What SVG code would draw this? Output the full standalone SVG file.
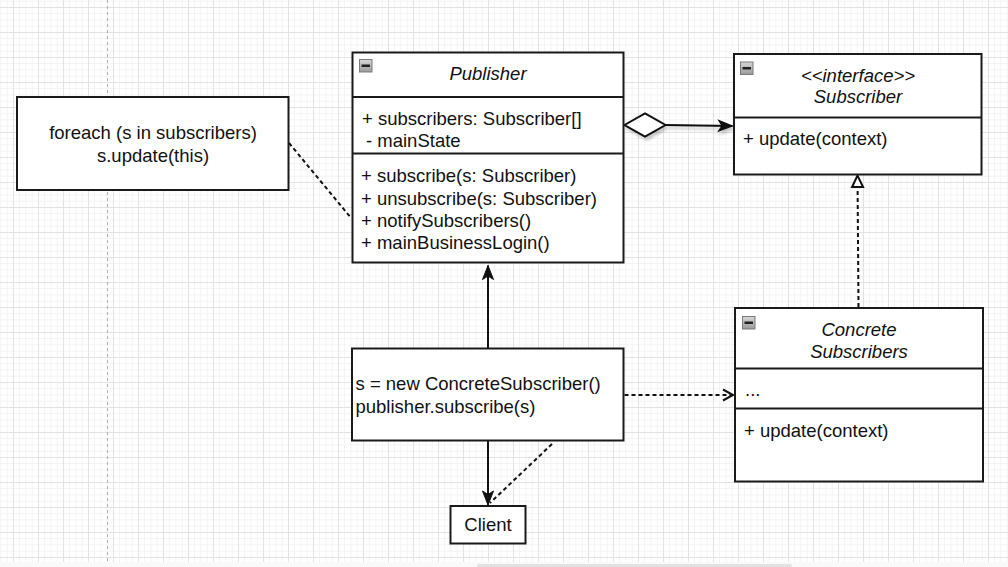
<svg xmlns="http://www.w3.org/2000/svg" width="1008" height="567" viewBox="0 0 1008 567">
  <style>
    .box { fill: #ffffff; stroke: #1a1a1a; stroke-width: 2; }
    .div { stroke: #1a1a1a; stroke-width: 2; }
    .t { font-family: "Liberation Sans", Arial, sans-serif; font-size: 18.5px; fill: #111111; }
    .ti { font-family: "Liberation Sans", Arial, sans-serif; font-size: 18.5px; font-style: italic; fill: #111111; }
    .mid { text-anchor: middle; }
    .edge { fill: none; stroke: #111111; stroke-width: 2; }
    .dash { stroke-dasharray: 4 3; }
  </style>
  <defs>
    <pattern id="grid" patternUnits="userSpaceOnUse" x="13" y="7" width="25" height="25">
      <rect x="6.25" y="0" width="0.8" height="25" fill="#f1f1f1"/>
      <rect x="12.5" y="0" width="0.8" height="25" fill="#f1f1f1"/>
      <rect x="18.75" y="0" width="0.8" height="25" fill="#f1f1f1"/>
      <rect x="0" y="6.25" width="25" height="0.8" fill="#f1f1f1"/>
      <rect x="0" y="12.5" width="25" height="0.8" fill="#f1f1f1"/>
      <rect x="0" y="18.75" width="25" height="0.8" fill="#f1f1f1"/>
      <rect x="0" y="0" width="1" height="25" fill="#e2e2e2"/>
      <rect x="0" y="0" width="25" height="1" fill="#e2e2e2"/>
    </pattern>
    <linearGradient id="iconFill" x1="0" y1="0" x2="0" y2="1">
      <stop offset="0" stop-color="#d8d8d8"/>
      <stop offset="1" stop-color="#9a9a9a"/>
    </linearGradient>
    <g id="collapse">
      <rect x="0.5" y="0.5" width="12.5" height="12.5" fill="url(#iconFill)" stroke="#7a7a7a" stroke-width="1"/>
      <rect x="2.5" y="5.5" width="8.5" height="2.5" fill="#222222"/>
    </g>
    <marker id="classic" markerUnits="userSpaceOnUse" markerWidth="20" markerHeight="16" viewBox="-16 -8 20 16" refX="0" refY="0" orient="auto">
      <path d="M0,0 L-14,-5.5 L-10.5,0 L-14,5.5 Z" fill="#111111" stroke="#111111" stroke-width="1"/>
    </marker>
    <marker id="hollowTri" markerUnits="userSpaceOnUse" markerWidth="20" markerHeight="16" viewBox="-16 -8 20 16" refX="0" refY="0" orient="auto">
      <path d="M0,0 L-11.5,-5.5 L-11.5,5.5 Z" fill="#ffffff" stroke="#111111" stroke-width="2"/>
    </marker>
    <marker id="open" markerUnits="userSpaceOnUse" markerWidth="20" markerHeight="16" viewBox="-16 -8 20 16" refX="0" refY="0" orient="auto">
      <path d="M-10,-5.5 L0,0 L-10,5.5" fill="none" stroke="#111111" stroke-width="2"/>
    </marker>
    <filter id="soft" x="-20%" y="-80%" width="140%" height="260%">
      <feDropShadow dx="2" dy="3" stdDeviation="1.8" flood-color="#000000" flood-opacity="0.22"/>
    </filter>
  </defs>

  <!-- canvas background with grid -->
  <rect x="0" y="0" width="1008" height="567" fill="#ffffff"/>
  <rect x="0" y="0" width="1008" height="562" fill="url(#grid)"/>
  <line x1="107.5" y1="0" x2="107.5" y2="562" stroke="#b0b0b0" stroke-width="1" stroke-dasharray="3 3"/>
  <rect x="0" y="562" width="1008" height="5" fill="#f9f9f9"/>
  <rect x="477" y="564" width="315" height="4" rx="2" fill="#e2e2e2"/>

  <!-- connectors -->
  <g id="connectors">
    <path class="edge dash" d="M289,143 L351.5,218.5"/>
    <g filter="url(#soft)">
      <path d="M624.5,125 L645,113.5 L665.5,125 L645,136.5 Z" fill="#ffffff" stroke="#111111" stroke-width="2"/>
      <path class="edge" d="M665.5,125 L732.5,126" marker-end="url(#classic)"/>
    </g>
    <path class="edge dash" d="M858.5,307 L857.5,175.5" marker-end="url(#hollowTri)"/>
    <path class="edge" d="M488,348 L488,265.5" marker-end="url(#classic)"/>
    <path class="edge" d="M488,441 L488,505" marker-end="url(#classic)"/>
    <path class="edge dash" d="M552,444 L490,503"/>
    <path class="edge dash" d="M624.5,395 L733,395" marker-end="url(#open)"/>
  </g>

  <!-- note: notify loop -->
  <g id="notify-note">
    <rect class="box" x="17" y="97" width="271.5" height="93"/>
    <text class="t mid" x="153" y="138.5">foreach (s in subscribers)</text>
    <text class="t mid" x="153" y="161.5">s.update(this)</text>
  </g>

  <!-- Publisher class -->
  <g id="publisher">
    <rect class="box" x="352.5" y="52.5" width="271" height="210"/>
    <line class="div" x1="352.5" y1="97" x2="623.5" y2="97"/>
    <line class="div" x1="352.5" y1="153.5" x2="623.5" y2="153.5"/>
    <use href="#collapse" x="359" y="59"/>
    <text class="ti mid" x="488" y="79.5">Publisher</text>
    <text class="t" x="362" y="125">+ subscribers: Subscriber[]</text>
    <text class="t" x="366" y="147">- mainState</text>
    <text class="t" x="361" y="182">+ subscribe(s: Subscriber)</text>
    <text class="t" x="361" y="204.5">+ unsubscribe(s: Subscriber)</text>
    <text class="t" x="361" y="227">+ notifySubscribers()</text>
    <text class="t" x="361" y="249">+ mainBusinessLogin()</text>
  </g>

  <!-- Subscriber interface -->
  <g id="subscriber">
    <rect class="box" x="734" y="54" width="247.5" height="120.5"/>
    <line class="div" x1="734" y1="117.5" x2="981.5" y2="117.5"/>
    <use href="#collapse" x="740" y="61.5"/>
    <text class="ti mid" x="858" y="81.5">&lt;&lt;interface&gt;&gt;</text>
    <text class="ti mid" x="858" y="102.5">Subscriber</text>
    <text class="t" x="743" y="145">+ update(context)</text>
  </g>

  <!-- Concrete subscribers class -->
  <g id="concrete-subscribers">
    <rect class="box" x="735" y="308" width="248" height="173.5"/>
    <line class="div" x1="735" y1="368.5" x2="983" y2="368.5"/>
    <line class="div" x1="735" y1="408.5" x2="983" y2="408.5"/>
    <use href="#collapse" x="742" y="316"/>
    <text class="ti mid" x="859" y="335.5">Concrete</text>
    <text class="ti mid" x="859" y="357.5">Subscribers</text>
    <text class="t" x="745" y="396">...</text>
    <text class="t" x="744" y="437">+ update(context)</text>
  </g>

  <!-- client setup code -->
  <g id="client-code">
    <rect class="box" x="352" y="348.5" width="271.5" height="92"/>
    <text class="t" x="355.5" y="390">s = new ConcreteSubscriber()</text>
    <text class="t" x="355.5" y="413">publisher.subscribe(s)</text>
  </g>

  <!-- client -->
  <g id="client">
    <rect class="box" x="450.5" y="506" width="75" height="37.5"/>
    <text class="t mid" x="488" y="530.5">Client</text>
  </g>
</svg>
